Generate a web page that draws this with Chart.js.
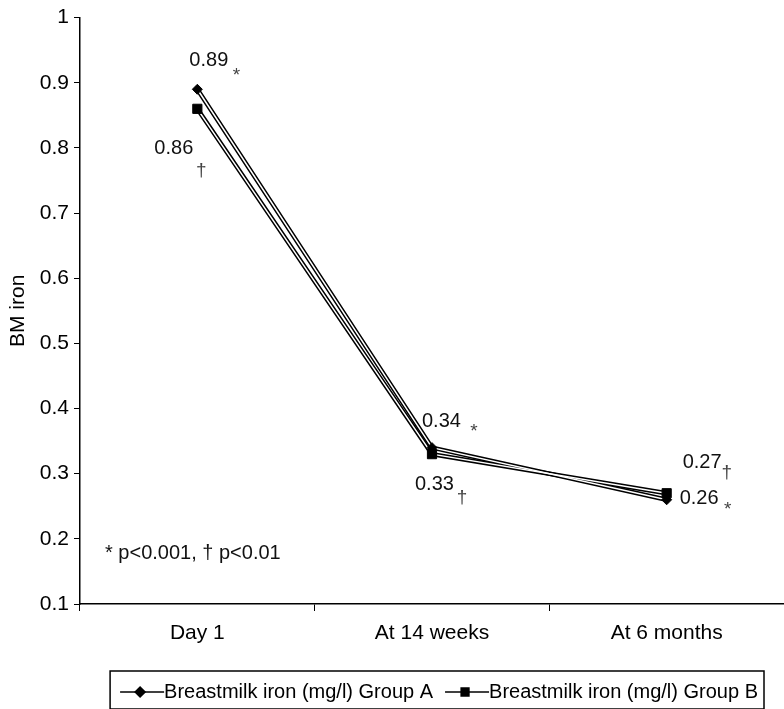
<!DOCTYPE html>
<html>
<head>
<meta charset="utf-8">
<script src="https://cdn.jsdelivr.net/npm/chart.js@4"></script>
<style>
  html, body { margin: 0; padding: 0; background: #fff; }
  #wrap { width: 784px; height: 709px; }
</style>
</head>
<body>
<div id="wrap"><canvas id="ironChart"></canvas></div>
<script>
const categories = ['Day 1', 'At 14 weeks', 'At 6 months'];
const groupA = [0.89, 0.34, 0.26];
const groupB = [0.86, 0.33, 0.27];
const sigA = ['*', '*', '*'];
const sigB = ['\u2020', '\u2020', '\u2020'];
const yTicks = [0.1, 0.2, 0.3, 0.4, 0.5, 0.6, 0.7, 0.8, 0.9, 1];
const footnote = '* p<0.001, \u2020 p<0.01';

const FONT = '"Liberation Sans", Arial, sans-serif';

// where each value label and its mark sit relative to the point
const labelOffsets = [
  [{ num: [-8, -29], sig: [39, -14] }, { num: [-10, -26], sig: [42, -16] }, { num: [13, -1], sig: [61, 10] }],
  [{ num: [-43, 40], sig: [4, 62] }, { num: [-17, 30], sig: [30, 44] }, { num: [16, -31], sig: [60, -20] }]
];

const valueLabels = {
  id: 'valueLabels',
  afterDatasetsDraw(chart) {
    const ctx = chart.ctx;
    const x = chart.scales.x, y = chart.scales.y;
    const series = [[groupA, sigA], [groupB, sigB]];
    ctx.save();
    ctx.textBaseline = 'middle';
    series.forEach(([vals, sigs], s) => {
      vals.forEach((v, i) => {
        const px = x.getPixelForValue(i), py = y.getPixelForValue(v);
        const o = labelOffsets[s][i];
        ctx.fillStyle = '#111';
        ctx.font = '20px ' + FONT;
        ctx.textAlign = 'left';
        ctx.fillText(v.toFixed(2), px + o.num[0], py + o.num[1]);
        ctx.fillStyle = '#444';
        ctx.font = '19px ' + FONT;
        ctx.textAlign = 'center';
        ctx.fillText(sigs[i], px + o.sig[0], py + o.sig[1]);
      });
    });
    ctx.fillStyle = '#111';
    ctx.font = '20px ' + FONT;
    ctx.textAlign = 'left';
    ctx.fillText(footnote, chart.chartArea.left + 25, 553);
    ctx.restore();
  }
};

// nudge the legend left so it sits like the original box
const legendShift = {
  id: 'legendShift',
  afterLayout(chart) {
    if (chart.legend) chart.legend.right -= 14;
  }
};

const legendDecor = {
  id: 'legendDecor',
  afterDraw(chart) {
    const lg = chart.legend;
    if (!lg || !lg.legendHitBoxes) return;
    const ctx = chart.ctx;
    const boxes = lg.legendHitBoxes;
    const styles = ['rectRot', 'rect'];
    const radii = [5, 5.5];
    ctx.save();
    boxes.forEach((b, i) => {
      const cy = b.top + b.height / 2;
      ctx.strokeStyle = '#000';
      ctx.lineWidth = 1.5;
      ctx.beginPath();
      ctx.moveTo(b.left, cy);
      ctx.lineTo(b.left + 44, cy);
      ctx.stroke();
      Chart.helpers.drawPoint(ctx, {
        pointStyle: styles[i], radius: radii[i], borderWidth: 1
      }, b.left + 20, cy);
      ctx.fillStyle = '#000';
      ctx.fill();
    });
    const first = boxes[0], last = boxes[boxes.length - 1];
    const top = first.top + first.height / 2 - 21;
    ctx.strokeStyle = '#000';
    ctx.lineWidth = 1.5;
    ctx.strokeRect(first.left - 10, top, last.left + last.width - first.left + 16, 38);
    ctx.restore();
  }
};

const datasets = [
  {
    label: 'Breastmilk iron (mg/l) Group A',
    data: groupA,
    borderColor: '#000', borderWidth: 4.5,
    pointRadius: 0, pointStyle: 'rectRot',
    order: 3
  },
  {
    label: 'Breastmilk iron (mg/l) Group B',
    data: groupB,
    borderColor: '#000', borderWidth: 4.5,
    pointRadius: 0, pointStyle: 'rect',
    order: 3
  },
  { label: 'innerA', data: groupA, borderColor: '#fff', borderWidth: 1.5, pointRadius: 0, order: 2 },
  { label: 'innerB', data: groupB, borderColor: '#fff', borderWidth: 1.5, pointRadius: 0, order: 2 },
  {
    label: 'markA', data: groupA, showLine: false,
    pointStyle: 'rectRot', pointRadius: 5, pointBackgroundColor: '#000', pointBorderColor: '#000',
    order: 1
  },
  {
    label: 'markB', data: groupB, showLine: false,
    pointStyle: 'rect', pointRadius: 6.5, pointBackgroundColor: '#000', pointBorderColor: '#000',
    order: 1
  }
];

new Chart(document.getElementById('ironChart'), {
  type: 'line',
  data: { labels: categories, datasets: datasets },
  options: {
    responsive: true,
    maintainAspectRatio: false,
    animation: false,
    layout: { autoPadding: false, padding: { top: 17, right: 0, left: 0, bottom: -3 } },
    elements: { line: { tension: 0 } },
    plugins: {
      tooltip: { enabled: false },
      legend: {
        display: true,
        position: 'bottom',
        align: 'end',
        labels: {
          filter: (item) => item.datasetIndex < 2,
          boxWidth: 34,
          boxHeight: 10,
          padding: 12,
          color: '#000',
          font: { family: FONT, size: 20 },
          generateLabels(chart) {
            return chart.data.datasets.slice(0, 2).map((d, i) => ({
              text: d.label, datasetIndex: i,
              fillStyle: 'rgba(0,0,0,0)', strokeStyle: 'rgba(0,0,0,0)', lineWidth: 0,
              fontColor: '#000', hidden: false
            }));
          }
        }
      }
    },
    scales: {
      x: {
        offset: true,
        border: { color: '#000', width: 1.5 },
        grid: { display: true, drawOnChartArea: false, color: '#000', tickLength: 7, offset: true },
        ticks: { color: '#000', font: { family: FONT, size: 21 }, padding: 10 },
        afterFit(scale) { scale.height = 66; }
      },
      y: {
        min: 0.1,
        max: 1,
        border: { color: '#000', width: 1.5 },
        grid: { display: true, drawOnChartArea: false, color: '#000', tickLength: 6 },
        afterBuildTicks(scale) { scale.ticks = yTicks.map(v => ({ value: v })); },
        ticks: {
          color: '#000', padding: 5,
          font: { family: FONT, size: 21 },
          callback: (v) => String(Math.round(v * 10) / 10)
        },
        title: { display: true, text: 'BM iron', color: '#000', font: { family: FONT, size: 21 }, padding: { top: 6, bottom: 0 } },
        afterFit(scale) { scale.width = 80; }
      }
    }
  },
  plugins: [legendShift, valueLabels, legendDecor]
});
</script>
</body>
</html>
